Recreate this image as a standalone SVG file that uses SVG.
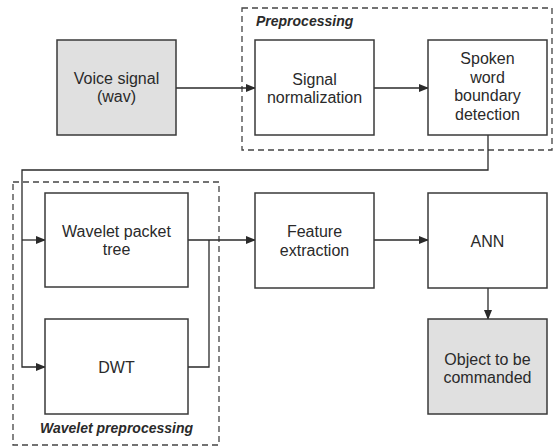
<svg xmlns="http://www.w3.org/2000/svg" width="553" height="446" viewBox="0 0 553 446">
<style>
.box{fill:#fff;stroke:#3a3a3a;stroke-width:1.5}
.gray{fill:#e0e0e0}
.grp{fill:none;stroke:#444;stroke-width:1.3;stroke-dasharray:6,4}
.t{font-family:"Liberation Sans",Arial,sans-serif;font-size:16px;fill:#2a2a2a;text-anchor:middle}
.lbl{font-family:"Liberation Sans",Arial,sans-serif;font-size:14px;font-weight:bold;font-style:italic;fill:#2a2a2a}
.c{fill:none;stroke:#2a2a2a;stroke-width:1.3}
</style>
<defs>
<marker id="ah" markerWidth="10" markerHeight="8" refX="9" refY="4" orient="auto" markerUnits="userSpaceOnUse">
<path d="M0,0 L10,4 L0,8 Z" fill="#2a2a2a"/>
</marker>
</defs>
<g id="group-preprocessing">
<rect class="grp" x="242" y="8" width="310" height="142"/>
<text class="lbl" x="256" y="26">Preprocessing</text>
</g>
<g id="group-wavelet">
<rect class="grp" x="13" y="182" width="206" height="263"/>
<text class="lbl" x="40" y="433">Wavelet preprocessing</text>
</g>
<g id="connectors">
<path class="c" d="M176,88 H255" marker-end="url(#ah)"/>
<path class="c" d="M374,88 H428" marker-end="url(#ah)"/>
<path class="c" d="M488,135 V170 H22 V367 H45" marker-end="url(#ah)"/>
<path class="c" d="M22,240 H45" marker-end="url(#ah)"/>
<path class="c" d="M188,240 H255" marker-end="url(#ah)"/>
<path class="c" d="M188,367 H209 V240"/>
<path class="c" d="M374,240 H428" marker-end="url(#ah)"/>
<path class="c" d="M488,288 V319" marker-end="url(#ah)"/>
</g>
<g id="voice">
<rect class="box gray" x="57" y="40" width="119" height="95"/>
<text class="t" x="116.5" y="84">Voice signal</text>
<text class="t" x="116.5" y="102">(wav)</text>
</g>
<g id="normalization">
<rect class="box" x="255" y="40" width="119" height="95"/>
<text class="t" x="314.5" y="85">Signal</text>
<text class="t" x="314.5" y="103">normalization</text>
</g>
<g id="boundary">
<rect class="box" x="428" y="40" width="119" height="95"/>
<text class="t" x="487.5" y="64">Spoken</text>
<text class="t" x="487.5" y="82.5">word</text>
<text class="t" x="487.5" y="101">boundary</text>
<text class="t" x="487.5" y="119.5">detection</text>
</g>
<g id="wpt">
<rect class="box" x="45" y="193" width="143" height="94"/>
<text class="t" x="116.5" y="237">Wavelet packet</text>
<text class="t" x="116.5" y="255">tree</text>
</g>
<g id="dwt">
<rect class="box" x="45" y="319" width="143" height="95"/>
<text class="t" x="116.5" y="373">DWT</text>
</g>
<g id="feature">
<rect class="box" x="255" y="193" width="119" height="95"/>
<text class="t" x="314.5" y="237">Feature</text>
<text class="t" x="314.5" y="256">extraction</text>
</g>
<g id="ann">
<rect class="box" x="428" y="193" width="119" height="95"/>
<text class="t" x="487.5" y="247">ANN</text>
</g>
<g id="object">
<rect class="box gray" x="428" y="319" width="119" height="95"/>
<text class="t" x="487.5" y="365">Object to be</text>
<text class="t" x="487.5" y="383">commanded</text>
</g>
</svg>
